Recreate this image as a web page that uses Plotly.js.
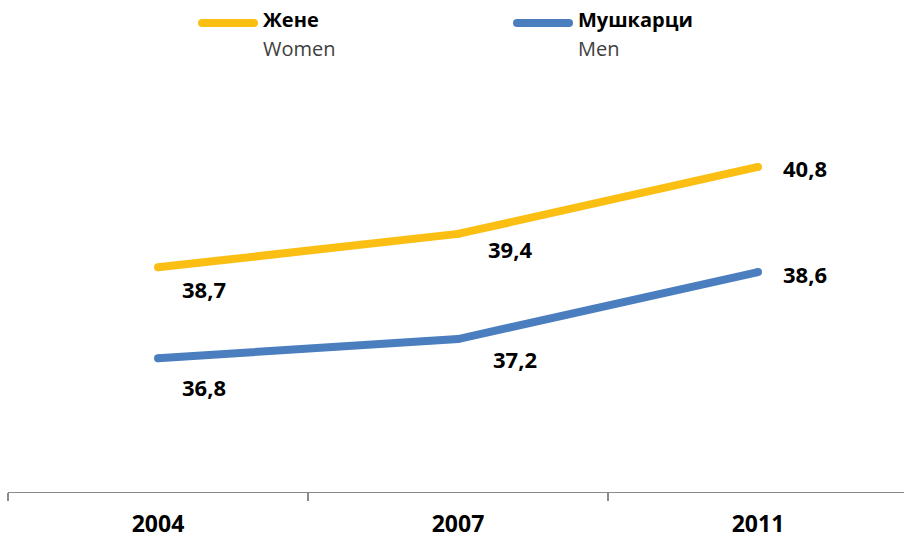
<!DOCTYPE html>
<html>
<head>
<meta charset="utf-8">
<script src="https://cdn.plot.ly/plotly-3.0.1.min.js"></script>
<style>html,body{margin:0;padding:0;background:#fff;}#chart{width:904px;height:539px;}</style>
</head>
<body>
<div id="chart"></div>
<script>
// ---- data ----
const years = ['2004', '2007', '2011'];
const women = [38.7, 39.4, 40.8];
const men = [36.8, 37.2, 38.6];
const seriesNamesSr = ['Жене', 'Мушкарци'];
const seriesNamesEn = ['Women', 'Men'];

// ---- styles ----
const colors = ['#FBBF14', '#4A7EBF'];
const W = 904, H = 539;
const M = {l: 8, r: 0, t: 14, b: 47};
const plotW = W - M.l - M.r, plotH = H - M.t - M.b;
// label offsets (px, right / down) per series, per point
const labelOffsets = [
  [[46, 22], [52, 15], [47, 1]],
  [[46, 29], [57, 20], [47, 2]]
];
const legendPos = [{x0: 202, x1: 254, tx: 261}, {x0: 517, x1: 569, tx: 576}];
const legendLineY = 23;

const px2paperX = px => (px - M.l) / plotW;
const px2paperY = py => (H - M.b - py) / plotH;

const seriesData = [women, men];
const traces = seriesData.map((vals, i) => ({
  type: 'scatter',
  mode: 'lines+markers',
  x: years,
  y: vals,
  name: seriesNamesEn[i],
  line: {color: colors[i], width: 8},
  marker: {color: colors[i], size: 8, line: {width: 0}},
  hoverinfo: 'skip',
  showlegend: false
}));

const annotations = [];
seriesData.forEach((vals, i) => {
  vals.forEach((v, j) => {
    annotations.push({
      x: j, y: v, xref: 'x', yref: 'y',
      text: '<b>' + v.toFixed(1).replace('.', ',') + '</b>',
      showarrow: false,
      xanchor: 'center', yanchor: 'middle',
      xshift: labelOffsets[i][j][0], yshift: -labelOffsets[i][j][1],
      font: {family: 'Open Sans', size: 22, color: '#000'}
    });
  });
});

const shapes = [];
legendPos.forEach((lp, i) => {
  shapes.push({
    type: 'line', xref: 'paper', yref: 'paper',
    x0: px2paperX(lp.x0), x1: px2paperX(lp.x1),
    y0: px2paperY(legendLineY), y1: px2paperY(legendLineY),
    line: {color: colors[i], width: 8}
  });
  [lp.x0, lp.x1].forEach(cx => {
    shapes.push({
      type: 'circle', xref: 'paper', yref: 'paper',
      x0: px2paperX(cx - 4), x1: px2paperX(cx + 4),
      y0: px2paperY(legendLineY - 4), y1: px2paperY(legendLineY + 4),
      fillcolor: colors[i], line: {width: 0}
    });
  });
  annotations.push({
    xref: 'paper', yref: 'paper', x: px2paperX(lp.tx), y: px2paperY(20),
    xanchor: 'left', yanchor: 'middle', showarrow: false,
    text: '<b>' + seriesNamesSr[i] + '</b>',
    font: {family: 'Open Sans', size: 20, color: '#000'}
  });
  annotations.push({
    xref: 'paper', yref: 'paper', x: px2paperX(lp.tx), y: px2paperY(48),
    xanchor: 'left', yanchor: 'middle', showarrow: false,
    text: seriesNamesEn[i],
    font: {family: 'Open Sans', size: 20, color: '#404040'}
  });
});

const layout = {
  width: W, height: H,
  margin: M,
  paper_bgcolor: '#fff', plot_bgcolor: '#fff',
  showlegend: false,
  xaxis: {
    type: 'category',
    range: [-0.5, -0.5 + plotW / 300],
    tickson: 'boundaries',
    ticks: 'outside', ticklen: 8, tickwidth: 1.3, tickcolor: '#898989',
    showline: true, linecolor: '#898989', linewidth: 1.3,
    showgrid: false, zeroline: false,
    ticklabelstandoff: 11,
    tickfont: {family: 'Open Sans', size: 23, color: '#000', weight: 'bold'},
    fixedrange: true
  },
  yaxis: {
    range: [34, 44],
    visible: false, showgrid: false, zeroline: false, fixedrange: true
  },
  annotations: annotations,
  shapes: shapes
};

Plotly.newPlot('chart', traces, layout, {staticPlot: true, displayModeBar: false});
</script>
</body>
</html>
